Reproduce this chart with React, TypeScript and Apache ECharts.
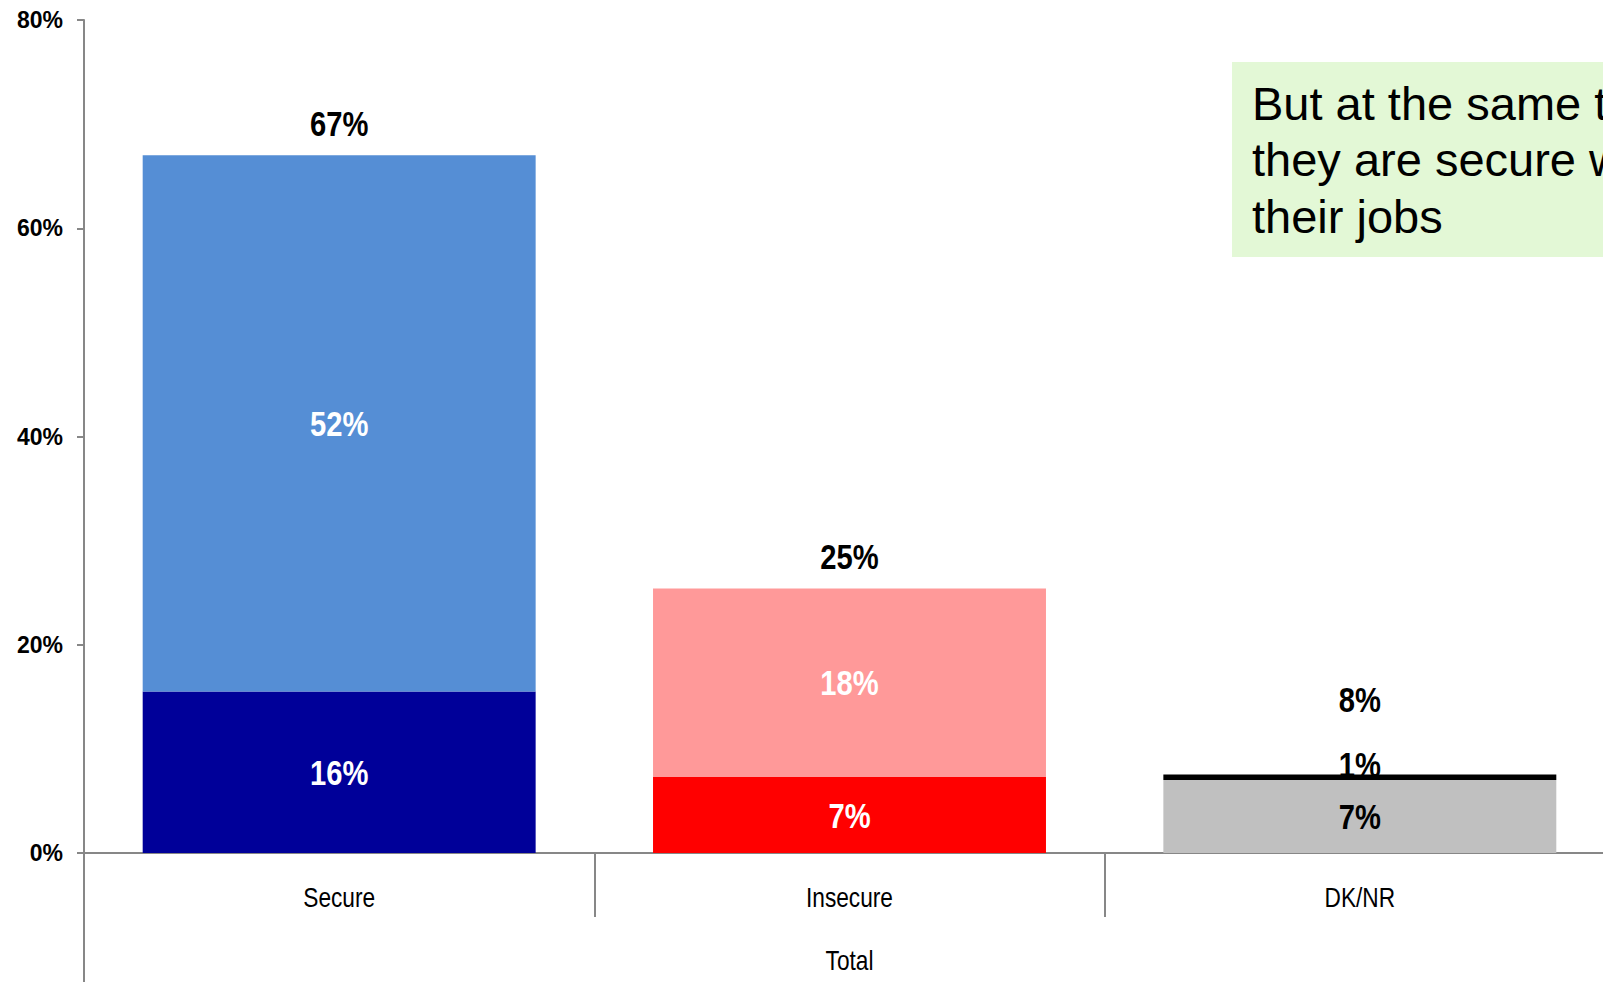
import React, { useEffect, useRef } from "react";
import * as echarts from "echarts";

const categories = ["Secure", "Insecure", "DK/NR"];
const groupLabel = ["Total"];
const lowerValues = [15.5, 7.3, 7.0];
const upperValues = [51.5, 18.1, 0.55];
const lowerColors = ["#000099", "#ff0000", "#c0c0c0"];
const upperColors = ["#558ed5", "#ff9999", "#000000"];
const lowerLabelColors = ["#ffffff", "#ffffff", "#000000"];
const upperLabelColors = ["#ffffff", "#ffffff", "#000000"];
const yTicks = [0, 20, 40, 60, 80];
const noteText = "But at the same time\nthey are secure with\ntheir jobs";

const ARIAL = '"Liberation Sans", Arial, sans-serif';
const AXIS_GRAY = "#878787";
const NARROW_SCALE = 0.81;

export default function App() {
  const ref = useRef<HTMLDivElement>(null);
  useEffect(() => {
    if (!ref.current) return;
    const chart = echarts.init(ref.current, undefined, { renderer: "svg" });
    const pct = (v: number) => Math.round(v) + "%";
    // label nudges (pixels) for the thin DK/NR top segment and its total
    const upperShift = [0, 0, -13];
    const totalShift = [32, 32, 75];

    const labelText = (x: number, y: number, text: string, color: string, size: number, bold: boolean) => ({
      type: "text",
      x,
      y,
      scaleX: NARROW_SCALE,
      scaleY: 1,
      z2: 100,
      style: {
        text,
        fill: color,
        fontFamily: ARIAL,
        fontSize: size,
        fontWeight: bold ? "bold" : "normal",
        align: "center",
        verticalAlign: "middle",
      },
    });

    const barSeries = (values: number[], colors: string[]) => ({
      type: "bar",
      stack: "s",
      barWidth: "77%",
      xAxisIndex: 0,
      data: values.map((v, i) => ({ value: v, itemStyle: { color: colors[i] } })),
    });

    chart.setOption({
      animation: false,
      grid: { left: 84, top: 20, width: 1531, height: 833, containLabel: false },
      xAxis: [
        {
          type: "category",
          data: categories,
          axisLine: { show: true, lineStyle: { color: AXIS_GRAY, width: 2 } },
          axisTick: { show: true, length: 64, lineStyle: { color: AXIS_GRAY, width: 2 } },
          axisLabel: { show: false },
        },
        {
          type: "category",
          position: "bottom",
          data: groupLabel,
          axisLine: { show: false },
          axisTick: { show: true, length: 135, lineStyle: { color: AXIS_GRAY, width: 2 } },
          axisLabel: { show: false },
        },
      ],
      yAxis: {
        type: "value",
        min: 0,
        max: 80,
        interval: 20,
        axisLine: { show: true, lineStyle: { color: AXIS_GRAY, width: 2 } },
        axisTick: { show: true, length: 7, lineStyle: { color: AXIS_GRAY, width: 2 } },
        splitLine: { show: false },
        axisLabel: {
          color: "#000",
          fontFamily: ARIAL,
          fontWeight: "bold",
          fontSize: 23,
          margin: 21,
          formatter: (v: number) => (yTicks.includes(v) ? v + "%" : ""),
        },
      },
      series: [
        barSeries(lowerValues, lowerColors),
        barSeries(upperValues, upperColors),
        {
          type: "custom",
          xAxisIndex: 0,
          clip: false,
          z: 10,
          data: categories.map((_, i) => [i, lowerValues[i], upperValues[i]]),
          renderItem: (params: any, api: any) => {
            const i = api.value(0);
            const lo = api.value(1);
            const up = api.value(2);
            const total = lo + up;
            const base = api.coord([i, 0]);
            const loMid = api.coord([i, lo / 2]);
            const upMid = api.coord([i, lo + up / 2]);
            const top = api.coord([i, total]);
            return {
              type: "group",
              children: [
                labelText(loMid[0], loMid[1], pct(lo), lowerLabelColors[i], 36, true),
                labelText(upMid[0], upMid[1] + upperShift[i], pct(up), upperLabelColors[i], 36, true),
                labelText(top[0], top[1] - totalShift[i], pct(total), "#000", 36, true),
                labelText(base[0], base[1] + 44, categories[i], "#000", 28, false),
              ],
            };
          },
        },
      ],
    });

    const totalX = chart.convertToPixel({ xAxisIndex: 1 }, groupLabel[0]) as number;
    const axisY = chart.convertToPixel({ yAxisIndex: 0 }, 0) as number;
    chart.setOption({
      graphic: [
        {
          type: "rect",
          shape: { x: 1232, y: 62, width: 400, height: 195 },
          style: { fill: "#e3f8d6" },
          z: 10,
        },
        {
          type: "text",
          x: 1252,
          y: 75,
          z: 11,
          style: {
            text: noteText,
            fontFamily: ARIAL,
            fontSize: 47,
            lineHeight: 56.5,
            fill: "#000",
            verticalAlign: "top",
          },
        },
        {
          type: "text",
          x: totalX,
          y: axisY + 107,
          scaleX: NARROW_SCALE,
          z: 11,
          style: {
            text: groupLabel[0],
            fontFamily: ARIAL,
            fontSize: 28,
            fill: "#000",
            align: "center",
            verticalAlign: "middle",
          },
        },
      ],
    });
    return () => chart.dispose();
  }, []);
  return (
    <div style={{ position: "fixed", left: 0, top: 0, width: 1603, height: 982, overflow: "hidden", background: "#fff" }}>
      <div ref={ref} style={{ width: 1640, height: 982 }} />
    </div>
  );
}
